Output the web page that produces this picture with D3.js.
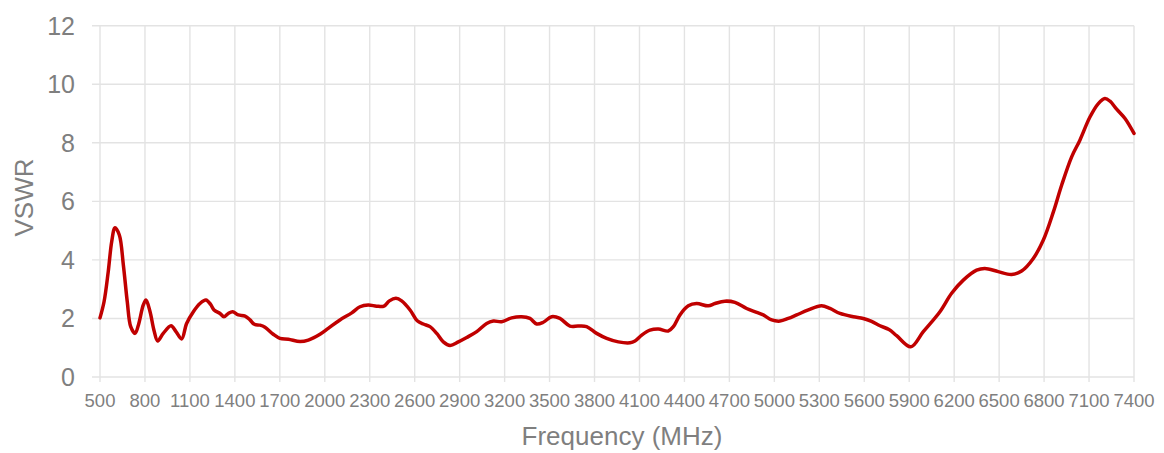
<!DOCTYPE html>
<html>
<head>
<meta charset="utf-8">
<script src="https://cdn.jsdelivr.net/npm/d3@7/dist/d3.min.js"></script>
<style>
  html, body { margin: 0; padding: 0; background: #fff; }
  svg { display: block; }
  text { font-family: "Liberation Sans", Arial, sans-serif; fill: #7f7f7f; }
</style>
</head>
<body>
<svg id="chart" width="1164" height="453"></svg>
<script>
const frequency = [500,527,555,578,600,629,656,682,705,734,756,789,807,834,860,885,922,974,1007,1045,1078,1123,1167,1207,1238,1261,1301,1327,1356,1385,1423,1468,1501,1530,1568,1601,1656,1701,1757,1835,1890,1968,2023,2101,2180,2235,2290,2346,2395,2431,2475,2513,2569,2617,2658,2702,2747,2791,2836,2891,2947,3014,3080,3125,3180,3247,3313,3369,3414,3458,3514,3569,3636,3691,3747,3814,3881,3959,4037,4070,4115,4170,4226,4292,4326,4370,4426,4481,4559,4604,4670,4737,4815,4882,4926,4982,5038,5093,5149,5227,5315,5371,5438,5527,5593,5649,5705,5765,5816,5910,5994,6105,6183,6261,6350,6405,6494,6583,6650,6728,6795,6862,6917,6984,7039,7106,7162,7206,7240,7284,7340,7400];
const vswr = [2.02,2.57,3.6,4.62,5.1,4.85,3.82,2.57,1.72,1.49,1.77,2.46,2.63,2.23,1.6,1.23,1.49,1.75,1.55,1.3,1.83,2.23,2.51,2.63,2.48,2.29,2.17,2.06,2.17,2.23,2.12,2.08,1.95,1.8,1.77,1.7,1.46,1.32,1.29,1.21,1.26,1.46,1.66,1.95,2.19,2.4,2.46,2.42,2.42,2.6,2.69,2.6,2.29,1.92,1.81,1.72,1.49,1.2,1.08,1.2,1.35,1.55,1.83,1.91,1.89,2.02,2.06,2.0,1.81,1.87,2.06,2.0,1.74,1.74,1.72,1.49,1.32,1.2,1.17,1.23,1.43,1.6,1.64,1.57,1.72,2.12,2.43,2.51,2.43,2.51,2.59,2.55,2.34,2.21,2.12,1.95,1.91,2.0,2.12,2.29,2.43,2.34,2.17,2.06,2.0,1.9,1.75,1.62,1.41,1.03,1.55,2.23,2.86,3.31,3.65,3.71,3.6,3.5,3.62,4.05,4.68,5.64,6.55,7.52,8.09,8.88,9.34,9.51,9.42,9.15,8.83,8.32];
const xTicks = [500,800,1100,1400,1700,2000,2300,2600,2900,3200,3500,3800,4100,4400,4700,5000,5300,5600,5900,6200,6500,6800,7100,7400];
const yTicks = [0,2,4,6,8,10,12];
const xTitle = "Frequency (MHz)";
const yTitle = "VSWR";

const svg = d3.select("#chart");
const pL = 100, pR = 1134, pT = 25.7, pB = 377;
const x = d3.scaleLinear().domain([500, 7400]).range([pL, pR]);
const y = d3.scaleLinear().domain([0, 12]).range([pB, pT]);

const grid = svg.append("g");
grid.selectAll("line.h").data(yTicks).join("line").attr("class", "h")
  .attr("x1", pL - 8).attr("x2", pR)
  .attr("y1", d => y(d)).attr("y2", d => y(d))
  .attr("stroke", "#e3e3e3").attr("stroke-width", 1.4);
grid.selectAll("line.v").data(xTicks).join("line").attr("class", "v")
  .attr("y1", pT).attr("y2", pB + 5)
  .attr("x1", d => x(d)).attr("x2", d => x(d))
  .attr("stroke", "#e3e3e3").attr("stroke-width", 1.4);

svg.append("g").selectAll("text").data(yTicks).join("text")
  .attr("x", 75).attr("y", d => y(d)).attr("dy", "0.36em")
  .attr("text-anchor", "end").style("font-size", "25px")
  .text(d => d);

svg.append("g").selectAll("text").data(xTicks).join("text")
  .attr("x", d => x(d)).attr("y", 407)
  .attr("text-anchor", "middle").style("font-size", "18.5px")
  .text(d => d);

svg.append("text").attr("x", (pL + pR) / 2 + 5).attr("y", 445)
  .attr("text-anchor", "middle").style("font-size", "26px").text(xTitle);

svg.append("text").attr("transform", "translate(33,197.5) rotate(-90)")
  .attr("text-anchor", "middle").style("font-size", "26px").text(yTitle);

const data = frequency.map((f, i) => [f, vswr[i]]);
const line = d3.line().x(d => x(d[0])).y(d => y(d[1])).curve(d3.curveCatmullRom.alpha(0.5));
svg.append("path").datum(data).attr("d", line)
  .attr("fill", "none").attr("stroke", "#c00000").attr("stroke-width", 3.5)
  .attr("stroke-linejoin", "round").attr("stroke-linecap", "round");
</script>
</body>
</html>
